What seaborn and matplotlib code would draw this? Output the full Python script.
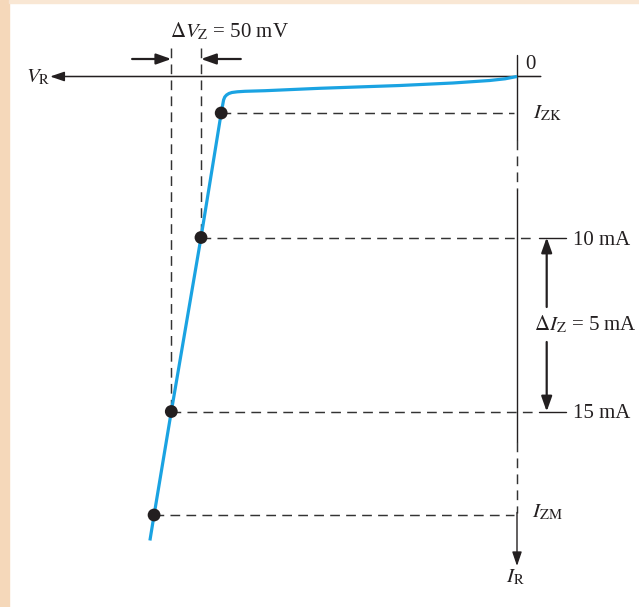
import numpy as np
import pandas as pd
import matplotlib
matplotlib.use("Agg")
import matplotlib.pyplot as plt
from matplotlib.patches import Rectangle
import seaborn as sns

# ==========================================
# Data (schematic zener reverse characteristic)
# x: reverse voltage V_R in mV (origin at 0), y: reverse current, schematic units (not to scale)
# ==========================================
curve_v = [0, 20, 46, 108, 197, 332, 424, 458, 471, 480, 485, 489, 492, 494, 498, 532, 582, 611, 618]
curve_i = [0, 2.3, 4, 6.5, 9, 11.8, 14.2, 14.8, 15.3, 16, 17, 18.5, 20.5, 23.5, 36.5, 161, 335, 438.5, 464]

point_names = ["I_ZK", "10 mA", "15 mA", "I_ZM"]
point_v = [498, 532, 582, 611]
point_i = [36.5, 161, 335, 438.5]

delta_vz_mv = 50
delta_iz_ma = 5

# ==========================================
# Styles
# ==========================================
BLUE = "#1AA3E2"
INK = "#231F20"
DASH = "#333333"
PEACH = "#F5D8BA"

sns.set_theme(style="white")
plt.rcParams["font.family"] = ["Liberation Serif", "DejaVu Serif"]
plt.rcParams["mathtext.fontset"] = "stix"
plt.rcParams["lines.scale_dashes"] = False
FS = 15
DASHES = (7.0, 4.5)
DLW = 1.05

fig = plt.figure(figsize=(6.39, 6.07), dpi=100)
ax = fig.add_axes([0, 0, 1, 1])
ax.set_xlim(870.4, -205.4)
ax.set_ylim(530.5, -76.5)
ax.axis("off")

# peach page border
fig.patches.append(Rectangle((0, 0), 9 / 639, 1, transform=fig.transFigure,
                             color=PEACH, zorder=0))
fig.patches.append(Rectangle((9 / 639, 1 - 3 / 607), 1, 3 / 607, transform=fig.transFigure,
                             color="#F9E7D4", zorder=0))


def arrow(tail, tip, lw=1.1, hl=8.0, hw=3.0):
    ax.annotate("", xy=tip, xytext=tail,
                arrowprops=dict(arrowstyle=f"-|>,head_length={hl},head_width={hw}",
                                color=INK, lw=lw, shrinkA=0, shrinkB=0, mutation_scale=1))


# ==========================================
# Axes of the characteristic
# ==========================================
arrow((-40, 0), (786, 0), lw=1.1, hl=8.5, hw=2.9)           # V_R axis
ax.plot([0, 0], [-21.5, 63.5], color=INK, lw=1.0)
ax.plot([0, 0], [63.5, 113], color=DASH, lw=DLW, dashes=DASHES)
ax.plot([0, 0], [113, 365.5], color=INK, lw=1.0)
ax.plot([0, 0], [365.5, 436], color=DASH, lw=DLW, dashes=DASHES)
arrow((0, 436), (0, 489.5), lw=1.0, hl=8.5, hw=2.9)          # I_R axis

# ==========================================
# Dashed guides
# ==========================================
for name, v, i in zip(point_names, point_v, point_i):
    end = -30 if "mA" in name else 5
    ax.plot([v, end], [i, i], color=DASH, lw=DLW, dashes=DASHES, zorder=2)
    if "mA" in name:
        ax.plot([-37, -83], [i, i], color=INK, lw=1.0)
        ax.plot([v, v], [-28.5, i], color=DASH, lw=DLW, dashes=DASHES, zorder=2)

# ==========================================
# Curve and operating points
# ==========================================
curve = pd.DataFrame({"V": curve_v, "I": curve_i})
sns.lineplot(data=curve, x="V", y="I", sort=False, estimator=None, color=BLUE,
             lw=2.3, ax=ax, legend=False, zorder=3,
             solid_joinstyle="round", solid_capstyle="butt")
sns.scatterplot(x=point_v, y=point_i, s=85, color=INK, edgecolor="none", ax=ax,
                zorder=5, legend=False)
ax.axis("off")

# ==========================================
# Delta annotations
# ==========================================
arrow((648, -17.5), (point_v[2], -17.5), lw=1.6, hl=9.0, hw=3.2)
arrow((465, -17.5), (point_v[1], -17.5), lw=1.6, hl=9.0, hw=3.2)
arrow((-50, 230.5), (-50, point_i[1]), lw=1.6, hl=9.0, hw=3.2)
arrow((-50, 265.5), (-50, point_i[2]), lw=1.6, hl=9.0, hw=3.2)

# ==========================================
# Labels
# ==========================================
txt = dict(fontsize=FS, color=INK, va="baseline")
ax.text(584, -39.5, r"$\Delta V_{\mathrm{Z}}$" + f" = {delta_vz_mv} mV", ha="left", **txt)
ax.text(786, 5.5, r"$V_{\mathrm{R}}$", ha="right", **txt)
ax.text(-13.5, -7.5, "0", ha="left", **txt)
ax.text(-27, 41.5, r"$I_{\mathrm{ZK}}$", ha="left", **txt)
ax.text(-94, 168.5, point_names[1], ha="left", **txt)
ax.text(-28.6, 253.5, r"$\Delta I_{\mathrm{Z}}$" + f" = {delta_iz_ma} mA", ha="left", **txt)
ax.text(-94, 341.5, point_names[2], ha="left", **txt)
ax.text(-25, 440.5, r"$I_{\mathrm{ZM}}$", ha="left", **txt)
ax.text(2.5, 505.5, r"$I_{\mathrm{R}}$", ha="center", **txt)

fig.savefig("out.png", dpi=100)
